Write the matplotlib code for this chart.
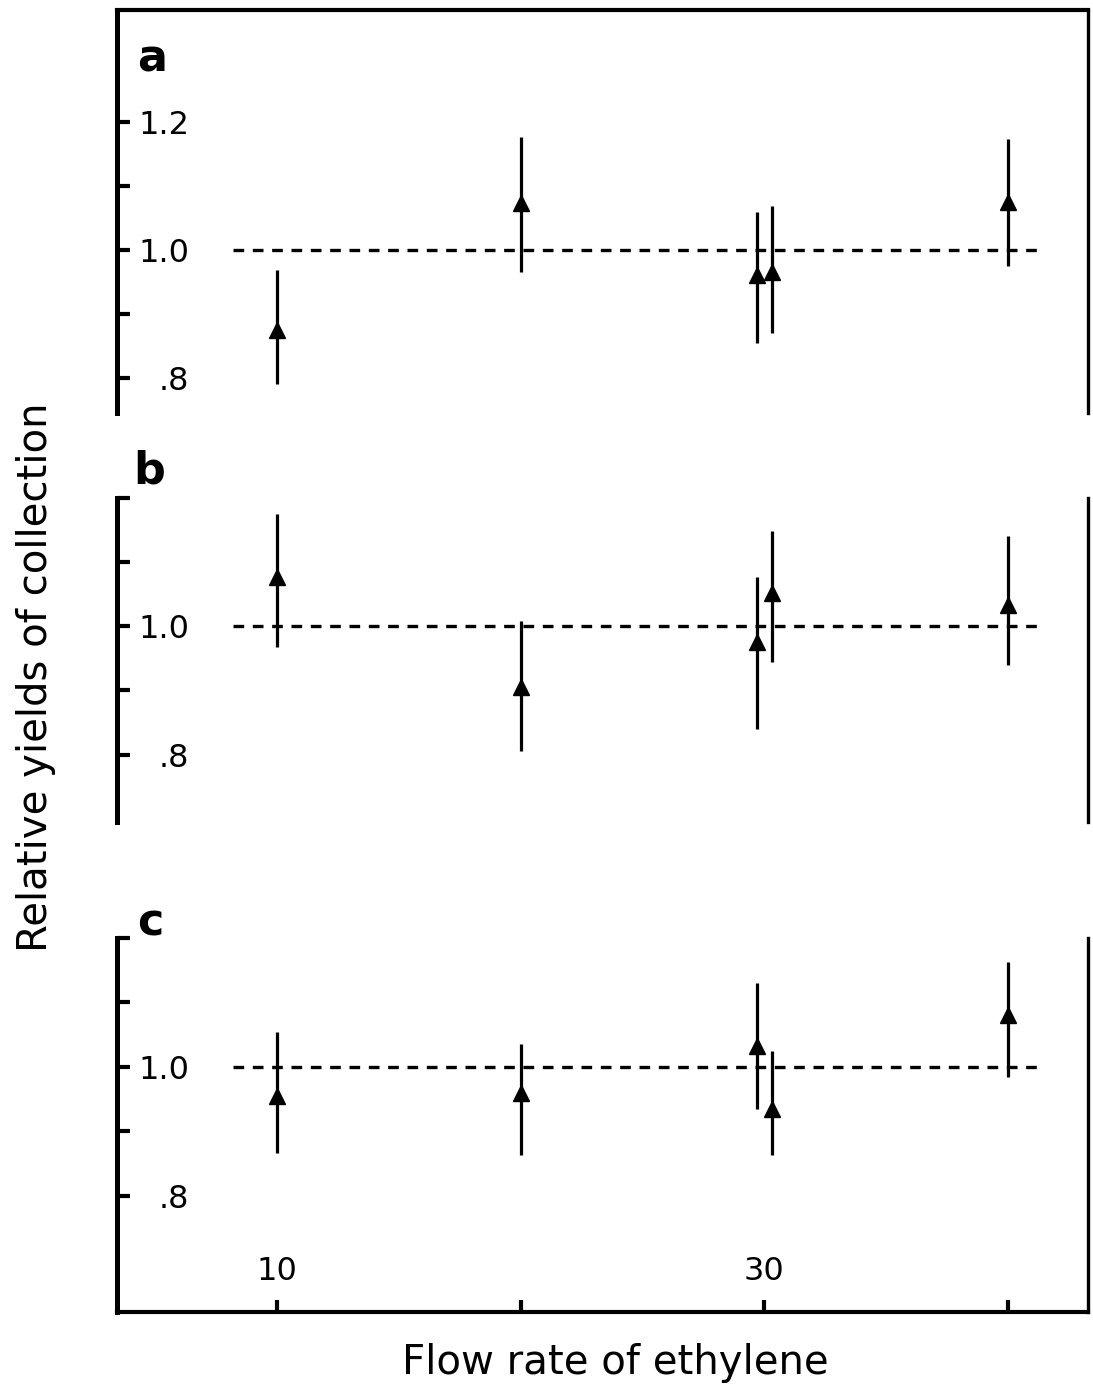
import numpy as np
from matplotlib import pyplot as plt

# flow rate of ethylene (two runs near 30)
flow = [10, 20, 29.7, 30.3, 40]

a_val = [0.875, 1.074, 0.960, 0.965, 1.075]
a_low = [0.790, 0.965, 0.855, 0.870, 0.975]
a_high = [0.969, 1.176, 1.060, 1.068, 1.174]

b_val = [1.077, 0.905, 0.975, 1.052, 1.034]
b_low = [0.967, 0.805, 0.840, 0.945, 0.940]
b_high = [1.175, 1.008, 1.077, 1.148, 1.140]

c_val = [0.955, 0.960, 1.032, 0.935, 1.080]
c_low = [0.866, 0.863, 0.935, 0.863, 0.985]
c_high = [1.054, 1.035, 1.130, 1.025, 1.163]

ref_level = 1.0
ref_x = [8.2, 41.5]

yticks = [0.8, 0.9, 1.0, 1.1, 1.2]
ytick_labels_a = ['.8', '', '1.0', '', '1.2']
ytick_labels_bc = ['.8', '', '1.0', '', '']
xticks = [10, 20, 30, 40]
xtick_labels = ['10', '', '30', '']

W, H = 1093, 1393
plt.rcParams['font.family'] = ['DejaVu Sans']
fig = plt.figure(figsize=(W / 100, H / 100), dpi=100)


def px_axes(x0, y0, x1, y1):
    return fig.add_axes([x0 / W, 1 - y1 / H, (x1 - x0) / W, (y1 - y0) / H])


xlim = (3.43, 43.28)
panels = [
    (px_axes(117, 10, 1088, 413), a_val, a_low, a_high, (0.745, 1.375),
     ytick_labels_a, ['left', 'right', 'top']),
    (px_axes(117, 498, 1088, 822), b_val, b_low, b_high, (0.695, 1.2),
     ytick_labels_bc, ['left', 'right']),
    (px_axes(117, 938, 1088, 1312), c_val, c_low, c_high, (0.62, 1.2),
     ytick_labels_bc, ['left', 'right', 'bottom']),
]

for ax, val, low, high, ylim, ylabels, shown in panels:
    val = np.array(val)
    yerr = [val - np.array(low), np.array(high) - val]
    ax.plot(ref_x, [ref_level, ref_level], color='black', lw=2.4,
            dashes=(3.2, 2.6))
    ax.errorbar(flow, val, yerr=yerr, fmt='^', color='black', ms=12,
                elinewidth=2.3, capsize=0, zorder=3)
    ax.set_xlim(*xlim)
    ax.set_ylim(*ylim)
    for side in ['left', 'right', 'top', 'bottom']:
        ax.spines[side].set_visible(side in shown)
        ax.spines[side].set_linewidth(2.4)
    ax.spines['left'].set_linewidth(3.6)
    ax.spines['top'].set_linewidth(3.0)
    ax.spines['bottom'].set_linewidth(3.0)
    ax.set_yticks(yticks)
    ax.set_yticklabels(ylabels)
    ax.tick_params(axis='y', direction='in', length=9, width=3, pad=-52,
                   labelsize=23, right=False)
    if 'bottom' in shown:
        ax.set_xticks(xticks)
        ax.set_xticklabels(xtick_labels)
        ax.tick_params(axis='x', direction='in', length=9, width=3, pad=-40,
                       labelsize=23, top=False)
    else:
        ax.set_xticks([])

fig.text(137 / W, 1 - 72 / H, 'a', fontsize=32, fontweight='bold', va='baseline')
fig.text(133 / W, 1 - 484 / H, 'b', fontsize=32, fontweight='bold', va='baseline')
fig.text(137 / W, 1 - 935 / H, 'c', fontsize=32, fontweight='bold', va='baseline')

fig.text(36 / W, 1 - 677 / H, 'Relative yields of collection', rotation=90,
         fontsize=29, ha='center', va='center')
fig.text(615 / W, 1 - 1363 / H, 'Flow rate of ethylene', fontsize=29,
         ha='center', va='center')

fig.savefig('out.png', dpi=100)
